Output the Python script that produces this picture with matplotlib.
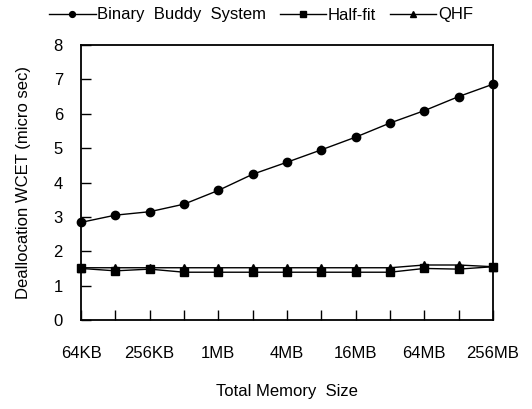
import numpy as np
import matplotlib.pyplot as plt

plt.rcParams['font.family'] = ['Liberation Sans', 'DejaVu Sans']

# Datos
tamanos = ['64KB', '128KB', '256KB', '512KB', '1MB', '2MB', '4MB',
           '8MB', '16MB', '32MB', '64MB', '128MB', '256MB']
buddy = [2.84, 3.05, 3.15, 3.37, 3.77, 4.24, 4.59, 4.95, 5.32, 5.73, 6.09, 6.50, 6.86]
half_fit = [1.50, 1.43, 1.48, 1.39, 1.39, 1.39, 1.39, 1.39, 1.39, 1.39, 1.50, 1.48, 1.55]
qhf = [1.52, 1.52, 1.52, 1.52, 1.52, 1.52, 1.52, 1.52, 1.52, 1.52, 1.60, 1.60, 1.55]

x = np.arange(len(tamanos))

fig = plt.figure(figsize=(5.32, 4.09), dpi=100)
ax = fig.add_axes([81 / 532, 1 - 320 / 409, 412 / 532, 275 / 409])

ax.plot(x, buddy, color='black', lw=1, marker='o', ms=6, label='Binary  Buddy  System', clip_on=False, zorder=3)
ax.plot(x, half_fit, color='black', lw=1, marker='s', ms=6, label='Half-fit', clip_on=False, zorder=3)
ax.plot(x, qhf, color='black', lw=1, marker='^', ms=6, label='QHF', clip_on=False, zorder=3)

ax.set_xlim(0, len(tamanos) - 1)
ax.set_ylim(0, 8)
ax.set_yticks(range(0, 9))
ax.set_xticks(x)
ax.set_xticklabels([t if i % 2 == 0 else '' for i, t in enumerate(tamanos)])
ax.tick_params(direction='in', length=7, width=1, labelsize=12, colors='black')
ax.tick_params(axis='x', pad=19)
ax.tick_params(axis='y', pad=13)
for s in ax.spines.values():
    s.set_linewidth(1.3)

ax.set_xlabel('Total Memory  Size', fontsize=12, labelpad=16)
ax.set_ylabel('Deallocation WCET (micro sec)', fontsize=12, labelpad=16)

fig.legend(loc='center', bbox_to_anchor=(261 / 532, 1 - 15 / 409), ncol=3, frameon=False,
           fontsize=12, handlelength=2.8, handletextpad=0.1, columnspacing=0.8, markerscale=0.7)

plt.savefig('out.png', dpi=100)
